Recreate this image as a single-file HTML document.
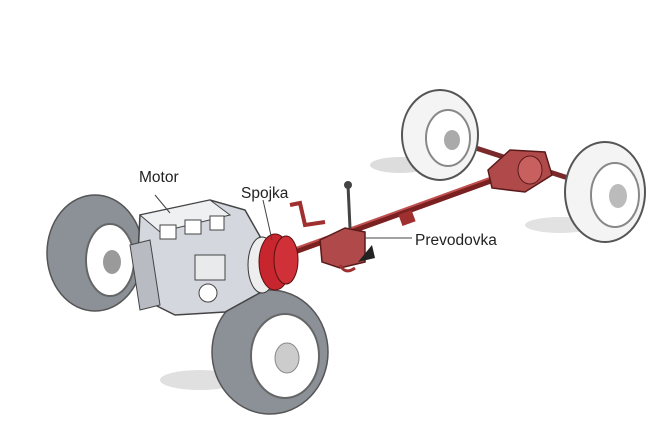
<!DOCTYPE html>
<html><head><meta charset="utf-8"><style>
html,body{margin:0;padding:0;background:#fff;}
svg{display:block}
text{font-family:"Liberation Sans",sans-serif;}
</style></head><body>
<svg width="650" height="433" viewBox="0 0 650 433" xmlns="http://www.w3.org/2000/svg">
<rect width="650" height="433" fill="#fff"/>
<!-- shadows -->
<ellipse cx="400" cy="165" rx="30" ry="8" fill="#ddd"/>
<ellipse cx="560" cy="225" rx="35" ry="8" fill="#e2e2e2"/>
<ellipse cx="200" cy="380" rx="40" ry="10" fill="#e0e0e0"/>
<!-- rear axle -->
<line x1="445" y1="138" x2="605" y2="190" stroke="#7a2a2a" stroke-width="5"/>
<!-- rear left wheel -->
<ellipse cx="440" cy="135" rx="38" ry="45" fill="#f4f4f4" stroke="#555" stroke-width="2"/>
<ellipse cx="448" cy="138" rx="22" ry="28" fill="#fff" stroke="#888" stroke-width="2"/>
<ellipse cx="452" cy="140" rx="8" ry="10" fill="#aaa"/>
<!-- driveshaft -->
<line x1="285" y1="255" x2="520" y2="170" stroke="#7a2020" stroke-width="6"/>
<line x1="285" y1="252" x2="520" y2="167" stroke="#c05050" stroke-width="2"/>
<!-- differential -->
<path d="M488 170 L510 150 L545 152 L552 175 L525 192 L492 188 Z" fill="#b04a4a" stroke="#5a1a1a" stroke-width="1.5"/>
<ellipse cx="530" cy="170" rx="12" ry="14" fill="#c86060" stroke="#5a1a1a"/>
<!-- rear right wheel -->
<ellipse cx="605" cy="192" rx="40" ry="50" fill="#f4f4f4" stroke="#555" stroke-width="2"/>
<ellipse cx="615" cy="195" rx="24" ry="32" fill="#fff" stroke="#888" stroke-width="2"/>
<ellipse cx="618" cy="196" rx="9" ry="12" fill="#bbb"/>
<!-- front axle left -->
<line x1="100" y1="265" x2="160" y2="280" stroke="#7a2a2a" stroke-width="5"/>
<!-- front left wheel -->
<ellipse cx="95" cy="253" rx="48" ry="58" fill="#8c9198" stroke="#555" stroke-width="1.5"/>
<ellipse cx="110" cy="260" rx="24" ry="36" fill="#fff" stroke="#666" stroke-width="2"/>
<ellipse cx="112" cy="262" rx="9" ry="12" fill="#9a9a9a"/>
<!-- front right wheel -->
<ellipse cx="270" cy="352" rx="58" ry="62" fill="#8c9198" stroke="#555" stroke-width="1.5"/>
<ellipse cx="285" cy="356" rx="34" ry="42" fill="#fff" stroke="#666" stroke-width="2"/>
<ellipse cx="287" cy="358" rx="12" ry="15" fill="#ccc" stroke="#888"/>
<!-- engine -->
<path d="M140 215 L210 200 L245 210 L262 240 L265 290 L225 312 L175 315 L145 300 L138 255 Z" fill="#d4d8de" stroke="#444" stroke-width="1.5"/>
<path d="M140 215 L210 200 L230 215 L160 232 Z" fill="#eef0f2" stroke="#444"/>
<rect x="160" y="225" width="16" height="14" fill="#fff" stroke="#444"/>
<rect x="185" y="220" width="16" height="14" fill="#fff" stroke="#444"/>
<rect x="210" y="216" width="14" height="14" fill="#fff" stroke="#444"/>
<rect x="195" y="255" width="30" height="25" fill="#e8eaec" stroke="#444"/>
<path d="M130 245 L150 240 L160 305 L140 310 Z" fill="#b8bcc2" stroke="#444"/>
<circle cx="208" cy="293" r="9" fill="#fff" stroke="#444"/>
<!-- clutch -->
<ellipse cx="262" cy="265" rx="14" ry="28" fill="#eee" stroke="#333"/>
<ellipse cx="275" cy="262" rx="16" ry="28" fill="#c8262e" stroke="#5a1010"/>
<ellipse cx="286" cy="260" rx="12" ry="24" fill="#d03038" stroke="#5a1010"/>
<!-- gearbox -->
<path d="M320 240 L345 228 L365 232 L365 262 L340 268 L322 262 Z" fill="#b04a4a" stroke="#5a1a1a" stroke-width="1.5"/>
<line x1="350" y1="228" x2="348" y2="185" stroke="#444" stroke-width="3"/>
<circle cx="348" cy="185" r="4" fill="#444"/>
<path d="M290 205 L300 203 L305 225 L325 222" fill="none" stroke="#a03030" stroke-width="4"/>
<path d="M340 265 Q345 275 355 268" fill="none" stroke="#a03030" stroke-width="3"/>
<polygon points="372,245 358,262 375,258" fill="#222"/>
<rect x="400" y="212" width="14" height="12" fill="#a03030" transform="rotate(-20 407 218)"/>
<!-- labels -->
<line x1="155" y1="195" x2="170" y2="213" stroke="#444" stroke-width="1"/>
<line x1="263" y1="200" x2="272" y2="240" stroke="#444" stroke-width="1"/>
<line x1="365" y1="238" x2="412" y2="238" stroke="#444" stroke-width="1"/>
<text x="139" y="182" font-size="15.5" fill="#222">Motor</text>
<text x="241" y="198" font-size="15.5" fill="#222">Spojka</text>
<text x="415" y="245" font-size="15.5" fill="#222">Prevodovka</text>
</svg>
</body></html>
